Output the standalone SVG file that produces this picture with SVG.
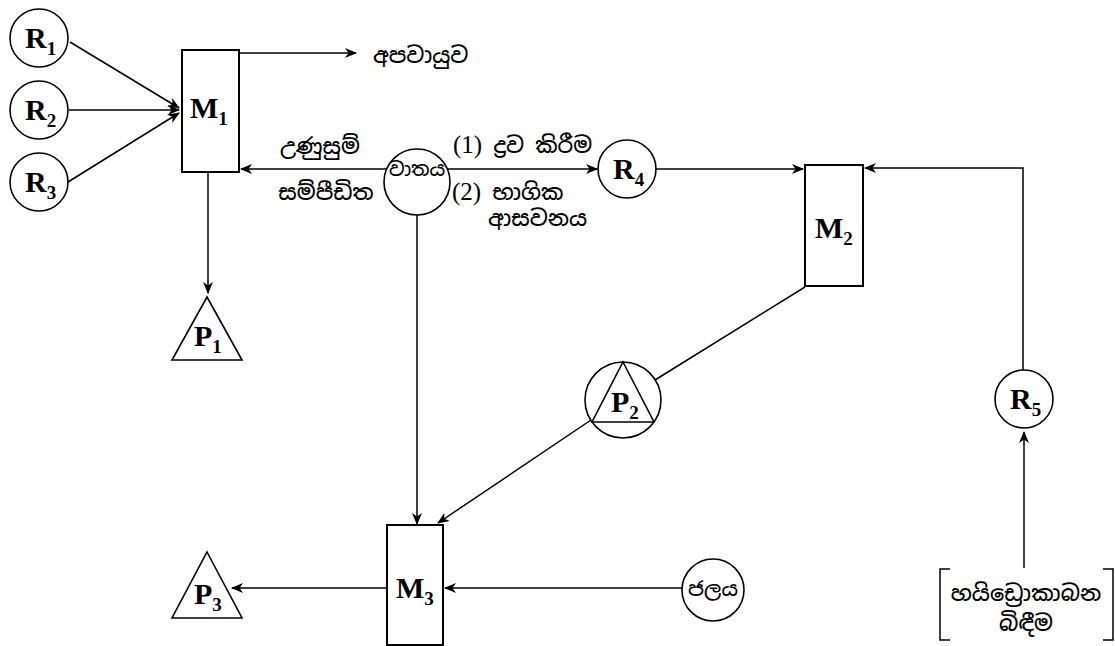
<svg xmlns="http://www.w3.org/2000/svg" width="1115" height="646" viewBox="0 0 1115 646">
<style>
.node{fill:#fff;stroke:#000;stroke-width:1.6}
.box{fill:#fff;stroke:#000;stroke-width:2}
.con{fill:none;stroke:#000;stroke-width:1.5}
.lbl{font-family:"Liberation Serif",serif;font-weight:bold;font-size:30px;fill:#000}
.sub{font-size:19px}
.si{font-family:"Noto Sans Sinhala","Noto Serif Sinhala","Noto Sans",sans-serif;font-size:22px;font-weight:500;fill:#000}
.num{font-family:"Liberation Serif",serif;font-size:25px;font-weight:normal}
</style>
<defs>
<marker id="ah" viewBox="0 0 12 10" refX="11" refY="5" markerWidth="12" markerHeight="10" markerUnits="userSpaceOnUse" orient="auto">
<path d="M0,0 L12,5 L0,10 L3.5,5 z" fill="#000"/>
</marker>
</defs>
<g id="connectors">
<line class="con" x1="70" y1="42" x2="179" y2="108" marker-end="url(#ah)"/>
<line class="con" x1="69" y1="110" x2="179" y2="110" marker-end="url(#ah)"/>
<line class="con" x1="68" y1="182" x2="179" y2="113" marker-end="url(#ah)"/>
<line class="con" x1="240" y1="53" x2="356" y2="53" marker-end="url(#ah)"/>
<line class="con" x1="208" y1="173" x2="208" y2="293" marker-end="url(#ah)"/>
<line class="con" x1="387" y1="169" x2="241" y2="169" marker-end="url(#ah)"/>
<line class="con" x1="447" y1="169" x2="597" y2="169" marker-end="url(#ah)"/>
<line class="con" x1="656" y1="169" x2="803" y2="169" marker-end="url(#ah)"/>
<polyline class="con" points="1023,370 1023,168 865,168" marker-end="url(#ah)"/>
<line class="con" x1="1024" y1="568" x2="1024" y2="432" marker-end="url(#ah)"/>
<line class="con" x1="805" y1="287" x2="655" y2="380"/>
<line class="con" x1="591" y1="420" x2="438" y2="523" marker-end="url(#ah)"/>
<line class="con" x1="417" y1="215" x2="417" y2="524" marker-end="url(#ah)"/>
<line class="con" x1="682" y1="588" x2="445" y2="588" marker-end="url(#ah)"/>
<line class="con" x1="387" y1="588" x2="232" y2="588" marker-end="url(#ah)"/>
</g>
<g id="R1"><circle class="node" cx="39" cy="38" r="29"/><text class="lbl" x="25" y="48">R<tspan class="sub" dy="7">1</tspan></text></g>
<g id="R2"><circle class="node" cx="39" cy="110" r="29"/><text class="lbl" x="25" y="120">R<tspan class="sub" dy="7">2</tspan></text></g>
<g id="R3"><circle class="node" cx="39" cy="182" r="29"/><text class="lbl" x="25" y="192">R<tspan class="sub" dy="7">3</tspan></text></g>
<g id="M1"><rect class="box" x="182" y="50" width="57" height="122"/><text class="lbl" x="190" y="118">M<tspan class="sub" dy="7">1</tspan></text></g>
<g id="apavayuva"><text class="si" x="373" y="63">අපවායුව</text></g>
<g id="vathaya"><circle class="node" cx="417" cy="182" r="33"/><text class="si" x="417" y="176" text-anchor="middle" style="font-size:19px">වාතය</text></g>
<g id="labels-left"><text class="si" x="320" y="154" text-anchor="middle">උණුසුම්</text><text class="si" x="326" y="200" text-anchor="middle">සම්පීඩිත</text></g>
<g id="labels-right"><text class="si" x="453" y="153"><tspan class="num">(1)</tspan> ද්‍රව කිරීම</text><text class="si" x="452" y="200"><tspan class="num">(2)</tspan> භාගික</text><text class="si" x="488" y="226">ආසවනය</text></g>
<g id="P1"><polygon class="node" points="207,297 242,360 172,360"/><text class="lbl" x="194" y="346">P<tspan class="sub" dy="7">1</tspan></text></g>
<g id="R4"><circle class="node" cx="627" cy="169" r="29"/><text class="lbl" x="613" y="179">R<tspan class="sub" dy="7">4</tspan></text></g>
<g id="M2"><rect class="box" x="805" y="165" width="58" height="121"/><text class="lbl" x="815" y="238">M<tspan class="sub" dy="7">2</tspan></text></g>
<g id="P2"><circle class="node" cx="623" cy="400" r="38"/><polygon class="node" points="623,362 654,422 592,422"/><text class="lbl" x="611" y="412">P<tspan class="sub" dy="7">2</tspan></text></g>
<g id="R5"><circle class="node" cx="1024" cy="399" r="29"/><text class="lbl" x="1010" y="409">R<tspan class="sub" dy="7">5</tspan></text></g>
<g id="M3"><rect class="box" x="387" y="525" width="56" height="120"/><text class="lbl" x="396" y="598">M<tspan class="sub" dy="7">3</tspan></text></g>
<g id="P3"><polygon class="node" points="207,552 242,618 172,618"/><text class="lbl" x="194" y="604">P<tspan class="sub" dy="7">3</tspan></text></g>
<g id="jalaya"><circle class="node" cx="713" cy="590" r="31"/><text class="si" x="713" y="596" text-anchor="middle" style="font-size:20px">ජලය</text></g>
<g id="cracking"><path class="con" d="M950,569 H940 V640 H950 M1103,569 H1113 V640 H1103"/><text class="si" x="1026" y="601" text-anchor="middle">හයිඩ්‍රොකාබන</text><text class="si" x="1026" y="631" text-anchor="middle">බිඳීම</text></g>
</svg>
